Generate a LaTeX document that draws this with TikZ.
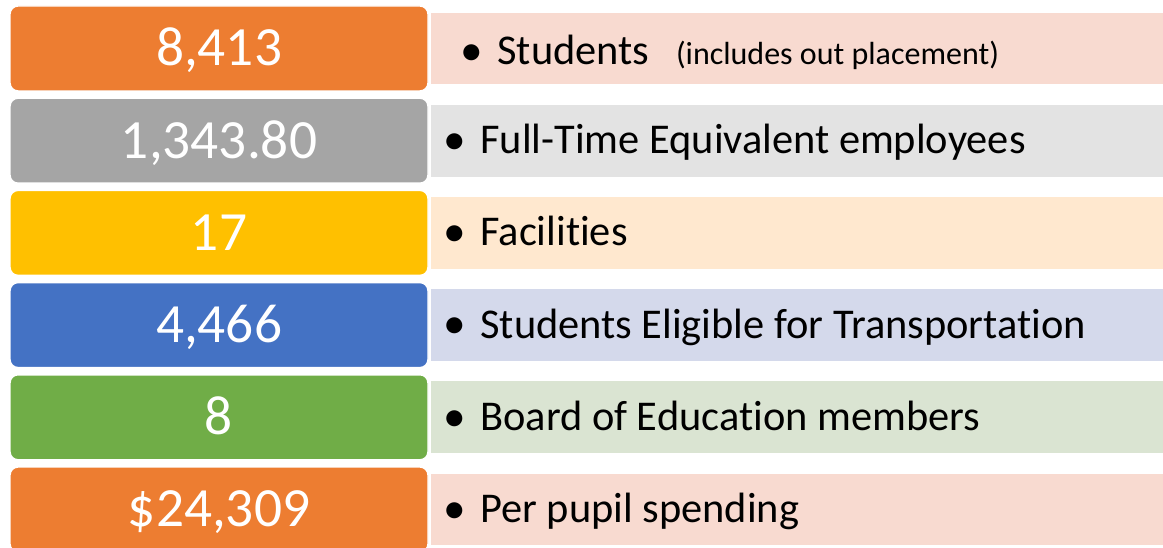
\documentclass[tikz,border=0pt]{standalone}
\usepackage{fontspec}
\setmainfont{Carlito}[Ligatures=NoCommon]
\usetikzlibrary{positioning}
\definecolor{accOrange}{HTML}{ED7D31}
\definecolor{accGray}{HTML}{A5A5A5}
\definecolor{accGold}{HTML}{FFC000}
\definecolor{accBlue}{HTML}{4472C4}
\definecolor{accGreen}{HTML}{70AD47}
\definecolor{lightOrange}{HTML}{F8DAD0}
\definecolor{lightGray}{HTML}{E3E3E3}
\definecolor{lightGold}{HTML}{FFE8CF}
\definecolor{lightBlue}{HTML}{D4D9EB}
\definecolor{lightGreen}{HTML}{DAE4D2}
\newcommand{\itemdot}{\makebox[27.75pt][l]{\raisebox{-0.6pt}{\fontsize{34}{34}\selectfont\textbullet}}}
\newcommand{\smallnote}[1]{{\fontsize{24}{26}\selectfont #1}}

\begin{document}
\begin{tikzpicture}[x=0.75pt,y=-0.75pt,
		numbox/.style={rectangle, rounded corners=6pt, draw=white, line width=1.1pt,
			minimum width=313.5pt, minimum height=63.75pt, inner sep=0pt,
			text=white, font=\fontsize{41.5}{45}\selectfont, text height=26pt, text depth=0pt},
		databox/.style={rectangle, draw=white, line width=0.8pt,
			minimum width=555pt, minimum height=54.75pt, inner sep=0pt},
		itemtext/.style={anchor=base west, inner sep=0pt, font=\fontsize{31.8}{34}\selectfont}]
	\useasboundingbox (0,0) rectangle (1163,548);
	\node[numbox, fill=accOrange] (n1) at (219,48.5) {8,413};
	\node[numbox, fill=accGray] (n2) at (219,140.7) {1,343.80};
	\node[numbox, fill=accGold] (n3) at (219,232.9) {17};
	\node[numbox, fill=accBlue] (n4) at (219,325.1) {4,466};
	\node[numbox, fill=accGreen] (n5) at (219,417.3) {8};
	\node[numbox, fill=accOrange] (n6) at (219,509.5) {\$24,309};
	\node[databox, fill=lightOrange, right=1pt of n1] (d1) {};
	\node[databox, fill=lightGray, right=1pt of n2] (d2) {};
	\node[databox, fill=lightGold, right=1pt of n3] (d3) {};
	\node[databox, fill=lightBlue, right=1pt of n4] (d4) {};
	\node[databox, fill=lightGreen, right=1pt of n5] (d5) {};
	\node[databox, fill=lightOrange, right=1pt of n6] (d6) {};
	\node[itemtext] (t1) at ([shift={(30,53.5)}]d1.north west) {\itemdot Students\hspace{20pt}\smallnote{(includes out placement)}};
	\node[itemtext] (t2) at ([shift={(13,50)}]d2.north west) {\itemdot Full-Time Equivalent employees};
	\node[itemtext] (t3) at ([shift={(13,50)}]d3.north west) {\itemdot Facilities};
	\node[itemtext] (t4) at ([shift={(13,50)}]d4.north west) {\itemdot Students Eligible for Transportation};
	\node[itemtext] (t5) at ([shift={(13,50)}]d5.north west) {\itemdot Board of Education members};
	\node[itemtext] (t6) at ([shift={(13,50)}]d6.north west) {\itemdot Per pupil spending};
\end{tikzpicture}
\end{document}
